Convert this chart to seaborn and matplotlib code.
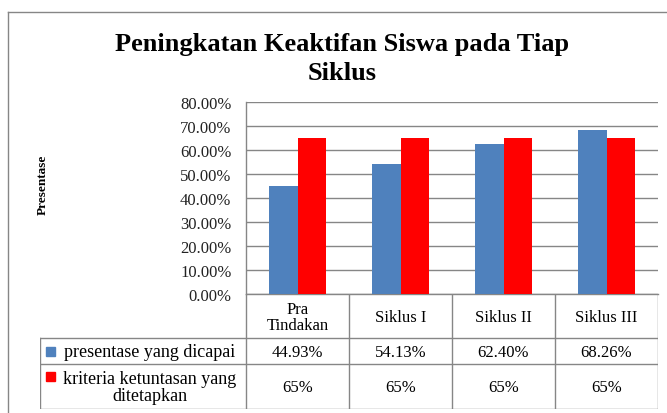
import numpy as np
import pandas as pd
import matplotlib
matplotlib.use('Agg')
import matplotlib.pyplot as plt
from matplotlib.lines import Line2D
from matplotlib.patches import Rectangle
import seaborn as sns

# Data grafik
kategori = ['Pra\nTindakan', 'Siklus I', 'Siklus II', 'Siklus III']
seri = ['presentase yang dicapai', 'kriteria ketuntasan yang\nditetapkan']
dicapai = [0.4493, 0.5413, 0.6240, 0.6826]
kriteria = [0.65, 0.65, 0.65, 0.65]
label_dicapai = ['44.93%', '54.13%', '62.40%', '68.26%']
label_kriteria = ['65%', '65%', '65%', '65%']
warna = ['#4F81BD', '#FF0000']
y_ticks = [0.0, 0.1, 0.2, 0.3, 0.4, 0.5, 0.6, 0.7, 0.8]

df = pd.DataFrame({
    'kategori': kategori * 2,
    'seri': [seri[0]] * len(kategori) + [seri[1]] * len(kategori),
    'nilai': dicapai + kriteria,
})

plt.rcParams['font.family'] = ['Liberation Serif', 'DejaVu Serif']
garis = '#868686'

W, H = 667, 414
fig = plt.figure(figsize=(W / 100, H / 100), dpi=100)


def kotak(x0, y0, x1, y1):
    # posisi dalam piksel -> fraksi figure
    return [x0 / W, 1 - y1 / H, (x1 - x0) / W, (y1 - y0) / H]


# Area plot
ax = fig.add_axes(kotak(246, 103, 658, 295))
sns.barplot(data=df, x='kategori', y='nilai', hue='seri', order=kategori,
            hue_order=seri, palette=warna, saturation=1, width=0.56,
            legend=False, ax=ax, zorder=3)
ax.set_xlim(-0.5, len(kategori) - 0.5)
ax.set_ylim(0, 0.8)
ax.set_yticks(y_ticks)
ax.set_yticklabels([f'{v * 100:.2f}%' for v in y_ticks])
ax.set_xticks([])
ax.set_xlabel('')
ax.set_ylabel('')
ax.tick_params(axis='y', length=0, pad=10.5, labelsize=12, labelcolor='#222222')
ax.yaxis.grid(True, color=garis, lw=1, zorder=0)
ax.set_axisbelow(True)
for s in ['top', 'right']:
    ax.spines[s].set_visible(False)
for s in ['left', 'bottom']:
    ax.spines[s].set_color(garis)
    ax.spines[s].set_linewidth(1)

# Tabel data di bawah grafik
tab = fig.add_axes(kotak(40, 295, 658, 410))
tab.set_xlim(40, 658)
tab.set_ylim(410, 295)
tab.axis('off')
kol = np.linspace(246, 658, len(kategori) + 1)
y_head, y_r1, y_r2 = 295, 339, 365
y_bawah = 409.5

for x in kol:
    tab.add_line(Line2D([x, x], [y_head, y_bawah], color=garis, lw=1))
tab.add_line(Line2D([40.5, 40.5], [y_r1, y_bawah], color=garis, lw=1))
for y in [y_r1, y_r2, y_bawah]:
    tab.add_line(Line2D([40.5, 658], [y, y], color=garis, lw=1))

for i, k in enumerate(kategori):
    xm = (kol[i] + kol[i + 1]) / 2
    tab.text(xm, (y_head + y_r1) / 2 + 1, k, ha='center', va='center',
             fontsize=12, linespacing=1.05)
    tab.text(xm, (y_r1 + y_r2) / 2 + 1, label_dicapai[i], ha='center',
             va='center', fontsize=12)
    tab.text(xm, (y_r2 + y_bawah) / 2 + 1, label_kriteria[i], ha='center',
             va='center', fontsize=12)

baris_y = [(y_r1 + y_r2) / 2, (y_r2 + y_bawah) / 2]
for j, nama in enumerate(seri):
    yc = baris_y[j]
    ym = yc if j == 0 else y_r2 + 12
    tab.add_patch(Rectangle((46, ym - 4.5), 9, 9, color=warna[j]))
    tab.text(150, yc + 1, nama, ha='center', va='center', fontsize=13,
             linespacing=1.0)

# Bingkai grafik
fig.add_artist(Line2D([7.5 / W, 7.5 / W], [0, 1 - 12.5 / H], color=garis,
                      lw=1, transform=fig.transFigure))
fig.add_artist(Line2D([7.5 / W, 1], [1 - 12.5 / H, 1 - 12.5 / H], color=garis,
                      lw=1, transform=fig.transFigure))

# Judul dan label sumbu
fig.text(342 / W, 1 - 59 / H, 'Peningkatan Keaktifan Siswa pada Tiap\nSiklus',
         ha='center', va='center', fontsize=19, fontweight='bold',
         linespacing=1.35)
fig.text(43 / W, 1 - 185 / H, 'Presentase', rotation=90, ha='center',
         va='center', fontsize=9.5, fontweight='bold')

fig.savefig('out.png', dpi=100)
